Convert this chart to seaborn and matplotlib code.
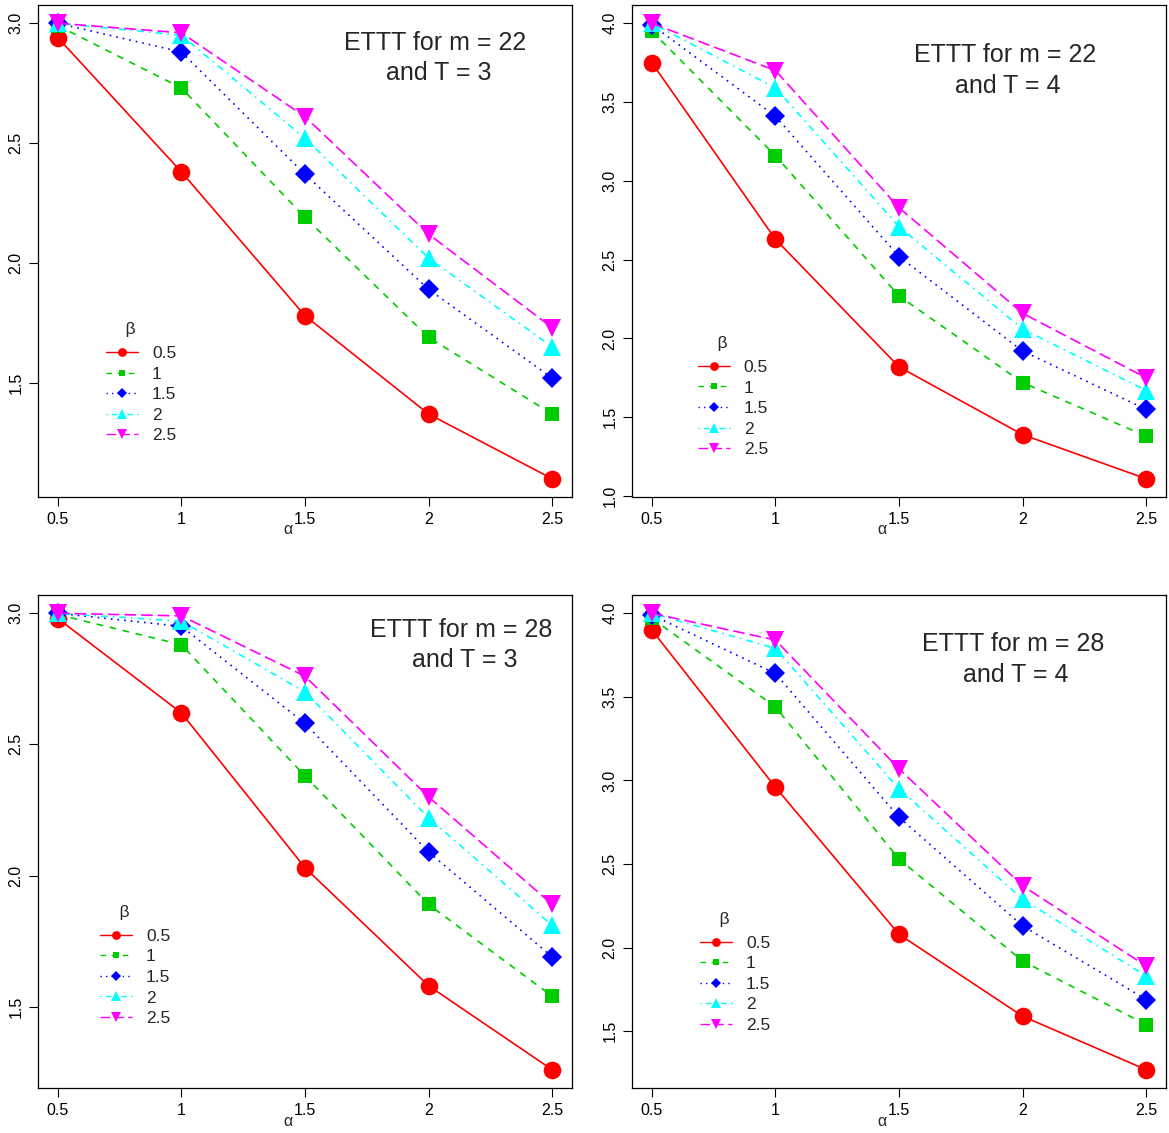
import numpy as np
import pandas as pd
import matplotlib
matplotlib.use("Agg")
import matplotlib.pyplot as plt
from matplotlib.lines import Line2D
import seaborn as sns

# ---------------- data ----------------
alpha = [0.5, 1.0, 1.5, 2.0, 2.5]
alpha_labels = ["0.5", "1", "1.5", "2", "2.5"]
beta_labels = ["0.5", "1", "1.5", "2", "2.5"]

# m = 22, T = 3
m22_T3_b05 = [2.94, 2.38, 1.78, 1.37, 1.10]
m22_T3_b1 = [2.99, 2.73, 2.19, 1.69, 1.37]
m22_T3_b15 = [3.00, 2.88, 2.37, 1.89, 1.52]
m22_T3_b2 = [3.00, 2.95, 2.52, 2.02, 1.65]
m22_T3_b25 = [3.00, 2.96, 2.61, 2.12, 1.73]

# m = 22, T = 4
m22_T4_b05 = [3.75, 2.63, 1.82, 1.39, 1.11]
m22_T4_b1 = [3.95, 3.16, 2.27, 1.72, 1.38]
m22_T4_b15 = [3.99, 3.41, 2.52, 1.92, 1.55]
m22_T4_b2 = [4.00, 3.59, 2.71, 2.06, 1.67]
m22_T4_b25 = [4.00, 3.70, 2.83, 2.16, 1.75]

# m = 28, T = 3
m28_T3_b05 = [2.98, 2.62, 2.03, 1.58, 1.26]
m28_T3_b1 = [2.995, 2.88, 2.38, 1.89, 1.54]
m28_T3_b15 = [3.00, 2.95, 2.58, 2.09, 1.69]
m28_T3_b2 = [3.00, 2.97, 2.70, 2.22, 1.81]
m28_T3_b25 = [3.00, 2.99, 2.76, 2.30, 1.89]

# m = 28, T = 4
m28_T4_b05 = [3.90, 2.96, 2.08, 1.59, 1.27]
m28_T4_b1 = [3.97, 3.44, 2.53, 1.92, 1.54]
m28_T4_b15 = [3.99, 3.64, 2.78, 2.13, 1.69]
m28_T4_b2 = [4.00, 3.79, 2.95, 2.29, 1.83]
m28_T4_b25 = [4.00, 3.84, 3.07, 2.37, 1.89]

titles = ["ETTT for m = 22\n and T = 3", "ETTT for m = 22\n and T = 4",
          "ETTT for m = 28\n and T = 3", "ETTT for m = 28\n and T = 4"]
yticks_list = [[1.5, 2.0, 2.5, 3.0],
               [1.0, 1.5, 2.0, 2.5, 3.0, 3.5, 4.0],
               [1.5, 2.0, 2.5, 3.0],
               [1.5, 2.0, 2.5, 3.0, 3.5, 4.0]]
panel_series = [
    [m22_T3_b05, m22_T3_b1, m22_T3_b15, m22_T3_b2, m22_T3_b25],
    [m22_T4_b05, m22_T4_b1, m22_T4_b15, m22_T4_b2, m22_T4_b25],
    [m28_T3_b05, m28_T3_b1, m28_T3_b15, m28_T3_b2, m28_T3_b25],
    [m28_T4_b05, m28_T4_b1, m28_T4_b15, m28_T4_b2, m28_T4_b25],
]

# ---------------- style ----------------
sns.set_style("white")
plt.rcParams["font.family"] = ["Liberation Sans", "DejaVu Sans"]

colors = ["#FF0000", "#00CD00", "#0000FF", "#00FFFF", "#FF00FF"]
markers = ["o", "s", "D", "^", "v"]
dashes = ["", (4, 4), (1, 3), (1, 3, 4, 3), (7, 3)]
msizes = [12.7, 10.0, 9.8, 13.5, 13.5]
LW = 1.2
LEG_FS = 12.5

W, H = 1169, 1133
fig = plt.figure(figsize=(W / 100, H / 100), dpi=100)

# axes rectangles in pixels: left, top, right, bottom
rects_px = [(38, 5, 572, 497), (632, 5, 1166, 497),
            (38, 595, 572, 1088), (632, 595, 1166, 1088)]
text_pos = [(0.743, 0.893), (0.698, 0.867), (0.792, 0.898), (0.713, 0.869)]
legend_pos = [(0.111, 0.373), (0.107, 0.345), (0.100, 0.389), (0.111, 0.375)]

for i in range(4):
    l, t, r, b = rects_px[i]
    ax = fig.add_axes([l / W, 1 - b / H, (r - l) / W, (b - t) / H])
    series = panel_series[i]
    df = pd.DataFrame({
        "alpha": np.tile(alpha, len(series)),
        "ETTT": np.concatenate([np.asarray(s, float) for s in series]),
        "beta": np.repeat(beta_labels, len(alpha)),
    })
    sns.lineplot(data=df, x="alpha", y="ETTT", hue="beta", style="beta",
                 hue_order=beta_labels, style_order=beta_labels,
                 palette=colors, markers=markers, dashes=dashes,
                 linewidth=LW, markeredgewidth=0, legend=False,
                 estimator=None, sort=False, ax=ax)
    for line, ms in zip(ax.lines, msizes):
        line.set_markersize(ms)

    # R-style 4% axis extension
    ymin = df["ETTT"].min()
    ymax = df["ETTT"].max()
    yr = ymax - ymin
    ax.set_ylim(ymin - 0.04 * yr, ymax + 0.04 * yr)
    ax.set_xlim(0.5 - 0.08, 2.5 + 0.08)

    ax.set_xticks(alpha)
    ax.set_xticklabels(alpha_labels)
    yt = yticks_list[i]
    ax.set_yticks(yt)
    ax.set_yticklabels([f"{v:.1f}" for v in yt])
    plt.setp(ax.get_yticklabels(), rotation=90, va="center")
    ax.tick_params(axis="both", direction="out", length=6.5, width=0.8,
                   pad=4, labelsize=11.5, colors="black",
                   left=True, bottom=True, top=False, right=False)
    ax.grid(False)
    for sp in ax.spines.values():
        sp.set_visible(True)
        sp.set_color("black")
        sp.set_linewidth(0.9)

    ax.set_ylabel("")
    ax.set_xlabel("α", fontsize=11.5)
    ax.xaxis.label.set_va("center")
    ax.xaxis.set_label_coords(0.468, -33 / (b - t))

    tx, ty = text_pos[i]
    ax.text(tx, ty, titles[i], transform=ax.transAxes, ha="center",
            va="center", fontsize=18, multialignment="center",
            linespacing=1.33)

    handles = []
    for c, m, d, ms in zip(colors, markers, dashes, msizes):
        h = Line2D([], [], color=c, marker=m, markersize=ms / 2,
                   markeredgewidth=0, linewidth=1.0)
        if d != "":
            h.set_dashes(d)
        handles.append(h)
    lx, ly = legend_pos[i]
    leg = ax.legend(handles, beta_labels, title="    β", loc="upper left",
                    bbox_to_anchor=(lx, ly), frameon=False, fontsize=LEG_FS,
                    title_fontsize=LEG_FS, handlelength=1.85,
                    handletextpad=0.8, labelspacing=0.31, borderpad=0.5,
                    borderaxespad=0, alignment="left")
    leg._legend_box.sep = 6.4

fig.savefig("out.png", dpi=100)
